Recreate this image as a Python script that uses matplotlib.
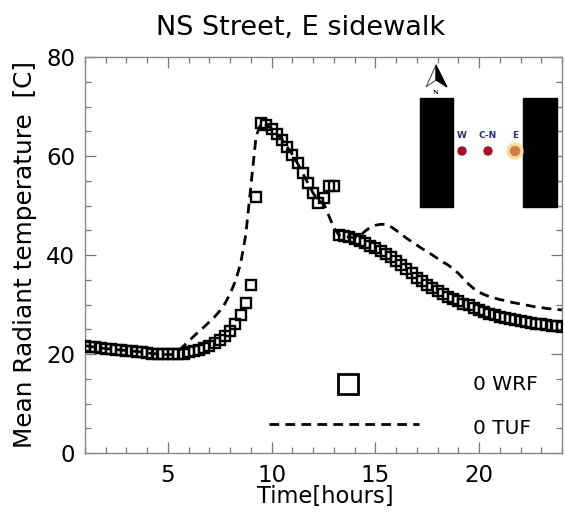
import numpy as np
import matplotlib
matplotlib.use("Agg")
import matplotlib.pyplot as plt
from matplotlib.patches import Rectangle, Polygon, Circle
from matplotlib.ticker import MultipleLocator

plt.rcParams['font.family'] = ['DejaVu Sans']
plt.rcParams['lines.scale_dashes'] = False

# Time axis: 15-minute output from 01:00 to 24:00
hours = np.arange(1.0, 24.001, 0.25)

# WRF mean radiant temperature, E sidewalk [C]
wrf_mrt = [
    21.7, 21.5, 21.4, 21.2, 21.1, 21.0, 20.9, 20.8, 20.7, 20.6,
    20.5, 20.4, 20.2, 20.1, 20.0, 19.9, 19.9, 19.9, 20.0, 20.1,
    20.4, 20.6, 20.9, 21.3, 21.7, 22.2, 22.8, 23.6, 24.6, 26.0,
    27.8, 30.3, 34.0, 51.7, 66.7, 66.3, 65.5, 64.5, 63.3, 61.8,
    60.3, 58.5, 56.5, 54.5, 52.5, 50.5, 51.5, 54.0, 54.0, 44.0,
    43.8, 43.6, 43.3, 42.9, 42.4, 41.9, 41.4, 40.8, 40.2, 39.5,
    38.8, 38.0, 37.2, 36.3, 35.4, 34.7, 34.0, 33.3, 32.7, 32.1,
    31.6, 31.1, 30.7, 30.2, 29.8, 29.3, 28.9, 28.5, 28.1, 27.8,
    27.5, 27.2, 27.0, 26.8, 26.6, 26.4, 26.3, 26.1, 26.0, 25.8,
    25.7, 25.6, 25.5,
]

# TUF mean radiant temperature, E sidewalk [C]
tuf_mrt = [
    21.7, 21.5, 21.4, 21.2, 21.1, 21.0, 20.9, 20.8, 20.7, 20.6,
    20.5, 20.4, 20.2, 20.1, 20.0, 19.9, 19.9, 19.9, 20.6, 21.6,
    22.6, 23.6, 24.6, 25.5, 26.5, 27.5, 28.7, 30.2, 32.2, 34.7,
    38.2, 44.0, 54.0, 64.0, 66.7, 66.3, 65.5, 64.5, 63.3, 61.8,
    60.3, 58.5, 56.5, 54.5, 52.5, 51.0, 50.5, 48.0, 45.5, 44.0,
    43.8, 43.6, 43.5, 43.8, 44.8, 45.6, 46.0, 46.2, 46.2, 45.7,
    45.0, 44.2, 43.4, 42.7, 42.0, 41.3, 40.7, 40.0, 39.3, 38.6,
    38.0, 37.2, 36.3, 35.2, 34.1, 33.2, 32.5, 32.0, 31.6, 31.3,
    31.0, 30.8, 30.5, 30.3, 30.1, 29.9, 29.7, 29.5, 29.4, 29.2,
    29.1, 29.0, 28.9,
]

x_ticks = [5, 10, 15, 20]
y_ticks = [0, 20, 40, 60, 80]
series_names = ["0 WRF", "0 TUF"]

W, H = 565, 518
fig = plt.figure(figsize=(W / 100, H / 100), dpi=100)
ax = fig.add_axes([85 / W, 1 - 453 / H, (562 - 85) / W, (453 - 57) / H])

ax.plot(hours, tuf_mrt, color='black', lw=2.0, dashes=(7, 4.5), zorder=2)
ax.plot(hours, wrf_mrt, linestyle='none', marker='s', ms=7.4, mfc='none',
        mec='black', mew=1.7, zorder=3)

ax.set_xlim(1, 24)
ax.set_ylim(0, 80)
ax.set_xticks(x_ticks)
ax.set_yticks(y_ticks)
ax.xaxis.set_minor_locator(MultipleLocator(1))
ax.yaxis.set_minor_locator(MultipleLocator(5))
ax.tick_params(which='both', direction='in', top=True, right=True,
               color='#777777', width=0.9, labelsize=16.5)
ax.tick_params(axis='x', pad=8)
ax.tick_params(axis='y', pad=7)
ax.tick_params(which='major', length=8)
ax.tick_params(which='minor', length=4)
for s in ax.spines.values():
    s.set_color('#888888')
    s.set_linewidth(1.0)

fig.text(325 / W, 1 - 497 / H, "Time[hours]", fontsize=16.3,
         ha='center', va='center')
fig.text(25 / W, 1 - 254 / H, "Mean Radiant temperature  [C]", fontsize=17.8,
         rotation=90, ha='center', va='center')
fig.text(301 / W, 1 - 28 / H, "NS Street, E sidewalk", fontsize=19.5,
         ha='center', va='center')

# legend block drawn inside the plot area
ax.plot([0.5515], [0.174], transform=ax.transAxes, marker='s', ms=15,
        mfc='none', mec='black', mew=2.0, clip_on=False)
ax.plot([0.385, 0.70], [0.073, 0.073], transform=ax.transAxes, color='black',
        lw=2.0, dashes=(7, 4.5))
ax.text(0.813, 0.174, series_names[0], transform=ax.transAxes, fontsize=14.5,
        va='center', ha='left')
ax.text(0.813, 0.062, series_names[1], transform=ax.transAxes, fontsize=14.5,
        va='center', ha='left')

# street-canyon schematic (pixel-like coordinates)
ins = fig.add_axes([414 / W, 1 - 212 / H, 146 / W, 152 / H])
ins.set_xlim(414, 560)
ins.set_ylim(212, 60)
ins.axis('off')
ins.add_patch(Rectangle((420, 98), 33, 109, color='black'))
ins.add_patch(Rectangle((523, 98), 34, 109, color='black'))
ins.add_patch(Polygon([(436, 65), (426, 87), (436, 80)], closed=True,
                      facecolor='white', edgecolor='#555555', lw=0.8))
ins.add_patch(Polygon([(436, 65), (436, 80), (447, 87)], closed=True,
                      facecolor='black', edgecolor='black', lw=0.8))
ins.text(436, 92, "N", fontsize=4.5, family='DejaVu Serif', ha='center',
         va='center', fontweight='bold')
for px, lab in [(462, "W"), (488, "C-N"), (515, "E")]:
    ins.text(px, 135, lab, fontsize=6.5, color='#2b2f6e', fontweight='bold',
             ha='center', va='center')
ins.add_patch(Circle((515, 151), 8, color='#f6dc96', alpha=0.9))
ins.add_patch(Circle((462, 151), 4, color='#a8102a'))
ins.add_patch(Circle((488, 151), 4, color='#a8102a'))
ins.add_patch(Circle((515, 151), 4.5, color='#cf8046'))

fig.savefig("out.png", dpi=100)
